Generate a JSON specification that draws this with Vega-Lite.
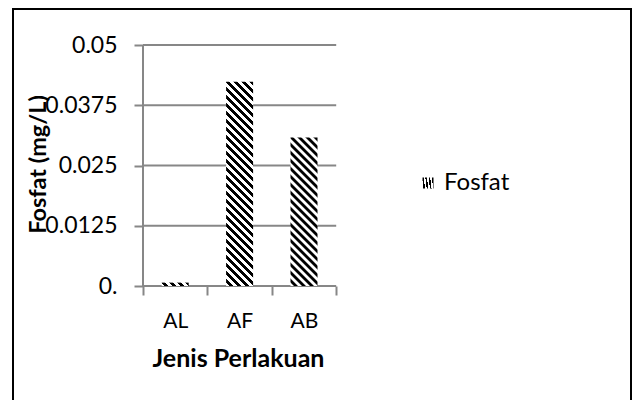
{
  "$schema": "https://vega.github.io/schema/vega-lite/v6.json",
  "autosize": {"type": "none"},
  "width": 618,
  "height": 392,
  "padding": {"left": 13, "top": 9, "right": 3, "bottom": -1},
  "background": "white",
  "config": {"view": {"stroke": "#000", "strokeWidth": 2}, "font": "Lato"},
  "datasets": {
    "main": [
      {"cat": "AL", "value": 0.0007, "series": "Fosfat"},
      {"cat": "AF", "value": 0.0424, "series": "Fosfat"},
      {"cat": "AB", "value": 0.0308, "series": "Fosfat"}
    ],
    "grid": [{"v": 0}, {"v": 0.0125}, {"v": 0.025}, {"v": 0.0375}, {"v": 0.05}]
  },
  "layer": [
    {
      "data": {"name": "grid"},
      "mark": {"type": "rule", "color": "#878787", "strokeWidth": 2},
      "encoding": {
        "y": {"field": "v", "type": "quantitative", "title": "Fosfat (mg/L)", "scale": {"domain": [0, 0.05], "range": [277, 36], "nice": false, "zero": false}},
        "x": {"datum": "AL", "type": "nominal", "bandPosition": 0, "title": "Jenis Perlakuan", "scale": {"domain": ["AL", "AF", "AB"], "range": [130, 323.2], "paddingInner": 0, "paddingOuter": 0}},
        "x2": {"datum": "AB", "bandPosition": 1}
      }
    },
    {
      "data": {"name": "main"},
      "mark": {"type": "bar", "width": 27, "strokeWidth": 0},
      "encoding": {
        "x": {
          "field": "cat", "type": "nominal", "title": "Jenis Perlakuan",
          "scale": {"domain": ["AL", "AF", "AB"], "range": [130, 323.2], "paddingInner": 0, "paddingOuter": 0},
          "axis": {
            "offset": -115, "domain": false, "grid": false, "tickBand": "extent",
            "ticks": true, "tickSize": 9, "tickWidth": 2, "tickColor": "#878787",
            "labelAngle": 0, "labelAlign": "center", "labelFont": "Lato", "labelFontSize": 21, "labelPadding": 26, "labelColor": "#000",
            "titleFont": "Lato", "titleFontSize": 25, "titleFontWeight": "bold",
            "titleColor": "#000", "titleBaseline": "alphabetic", "titleAlign": "center", "titleX": 225, "titleY": 80
          }
        },
        "y": {
          "field": "value", "type": "quantitative", "title": "Fosfat (mg/L)",
          "scale": {"domain": [0, 0.05], "range": [277, 36], "nice": false, "zero": false},
          "axis": {
            "values": [0, 0.0125, 0.025, 0.0375, 0.05],
            "labelExpr": "datum.value === 0 ? '0.' : format(datum.value, '.4~g')",
            "offset": -130, "domain": false, "grid": false,
            "ticks": true, "tickSize": 9, "tickWidth": 2, "tickColor": "#878787",
            "labelFont": "Lato", "labelFontSize": 23, "labelPadding": 17, "labelColor": "#000",
            "titleFont": "Lato", "titleFontSize": 23.5, "titleFontWeight": "bold",
            "titleColor": "#000", "titleAngle": -90, "titleBaseline": "alphabetic", "titleAlign": "center",
            "titleX": -98, "titleY": 155
          }
        },
        "stroke": {
          "field": "series", "type": "nominal",
          "scale": {"range": ["transparent"]},
          "legend": {
            "orient": "none", "legendX": 403, "legendY": 162, "title": null, "padding": 0,
            "symbolType": "square", "symbolSize": 121, "symbolStrokeWidth": 0,
            "labelFont": "Lato", "labelFontSize": 24, "labelColor": "#000", "labelOffset": 4,
            "encode": {
              "symbols": {
                "update": {
                  "opacity": {"value": 1},
                  "stroke": {"value": "transparent"},
                  "fill": {"value": {"gradient": "linear", "x1": 1, "y1": 0, "x2": 0, "y2": 1, "stops": [
                    {"offset": 0, "color": "#000"},
                    {"offset": 0.2, "color": "#000"}, {"offset": 0.2, "color": "#fff"},
                    {"offset": 0.4, "color": "#fff"}, {"offset": 0.4, "color": "#000"},
                    {"offset": 0.6, "color": "#000"}, {"offset": 0.6, "color": "#fff"},
                    {"offset": 0.8, "color": "#fff"}, {"offset": 0.8, "color": "#000"},
                    {"offset": 1, "color": "#000"}
                  ]}}
                }
              }
            }
          }
        },
        "fill": {
          "condition": [
            {"test": "datum.cat === 'AF'", "value": {"gradient": "linear", "x1": 1, "y1": 0, "x2": 0.837349, "y2": 1.231141, "stops": [
              {"offset": 0, "color": "#000"},
              {"offset": 0.015625, "color": "#000"}, {"offset": 0.015625, "color": "#fff"},
              {"offset": 0.03125, "color": "#fff"}, {"offset": 0.03125, "color": "#000"},
              {"offset": 0.046875, "color": "#000"}, {"offset": 0.046875, "color": "#fff"},
              {"offset": 0.0625, "color": "#fff"}, {"offset": 0.0625, "color": "#000"},
              {"offset": 0.078125, "color": "#000"}, {"offset": 0.078125, "color": "#fff"},
              {"offset": 0.09375, "color": "#fff"}, {"offset": 0.09375, "color": "#000"},
              {"offset": 0.109375, "color": "#000"}, {"offset": 0.109375, "color": "#fff"},
              {"offset": 0.125, "color": "#fff"}, {"offset": 0.125, "color": "#000"},
              {"offset": 0.140625, "color": "#000"}, {"offset": 0.140625, "color": "#fff"},
              {"offset": 0.15625, "color": "#fff"}, {"offset": 0.15625, "color": "#000"},
              {"offset": 0.171875, "color": "#000"}, {"offset": 0.171875, "color": "#fff"},
              {"offset": 0.1875, "color": "#fff"}, {"offset": 0.1875, "color": "#000"},
              {"offset": 0.203125, "color": "#000"}, {"offset": 0.203125, "color": "#fff"},
              {"offset": 0.21875, "color": "#fff"}, {"offset": 0.21875, "color": "#000"},
              {"offset": 0.234375, "color": "#000"}, {"offset": 0.234375, "color": "#fff"},
              {"offset": 0.25, "color": "#fff"}, {"offset": 0.25, "color": "#000"},
              {"offset": 0.265625, "color": "#000"}, {"offset": 0.265625, "color": "#fff"},
              {"offset": 0.28125, "color": "#fff"}, {"offset": 0.28125, "color": "#000"},
              {"offset": 0.296875, "color": "#000"}, {"offset": 0.296875, "color": "#fff"},
              {"offset": 0.3125, "color": "#fff"}, {"offset": 0.3125, "color": "#000"},
              {"offset": 0.328125, "color": "#000"}, {"offset": 0.328125, "color": "#fff"},
              {"offset": 0.34375, "color": "#fff"}, {"offset": 0.34375, "color": "#000"},
              {"offset": 0.359375, "color": "#000"}, {"offset": 0.359375, "color": "#fff"},
              {"offset": 0.375, "color": "#fff"}, {"offset": 0.375, "color": "#000"},
              {"offset": 0.390625, "color": "#000"}, {"offset": 0.390625, "color": "#fff"},
              {"offset": 0.40625, "color": "#fff"}, {"offset": 0.40625, "color": "#000"},
              {"offset": 0.421875, "color": "#000"}, {"offset": 0.421875, "color": "#fff"},
              {"offset": 0.4375, "color": "#fff"}, {"offset": 0.4375, "color": "#000"},
              {"offset": 0.453125, "color": "#000"}, {"offset": 0.453125, "color": "#fff"},
              {"offset": 0.46875, "color": "#fff"}, {"offset": 0.46875, "color": "#000"},
              {"offset": 0.484375, "color": "#000"}, {"offset": 0.484375, "color": "#fff"},
              {"offset": 0.5, "color": "#fff"}, {"offset": 0.5, "color": "#000"},
              {"offset": 0.515625, "color": "#000"}, {"offset": 0.515625, "color": "#fff"},
              {"offset": 0.53125, "color": "#fff"}, {"offset": 0.53125, "color": "#000"},
              {"offset": 0.546875, "color": "#000"}, {"offset": 0.546875, "color": "#fff"},
              {"offset": 0.5625, "color": "#fff"}, {"offset": 0.5625, "color": "#000"},
              {"offset": 0.578125, "color": "#000"}, {"offset": 0.578125, "color": "#fff"},
              {"offset": 0.59375, "color": "#fff"}, {"offset": 0.59375, "color": "#000"},
              {"offset": 0.609375, "color": "#000"}, {"offset": 0.609375, "color": "#fff"},
              {"offset": 0.625, "color": "#fff"}, {"offset": 0.625, "color": "#000"},
              {"offset": 0.640625, "color": "#000"}, {"offset": 0.640625, "color": "#fff"},
              {"offset": 0.65625, "color": "#fff"}, {"offset": 0.65625, "color": "#000"},
              {"offset": 0.671875, "color": "#000"}, {"offset": 0.671875, "color": "#fff"},
              {"offset": 0.6875, "color": "#fff"}, {"offset": 0.6875, "color": "#000"},
              {"offset": 0.703125, "color": "#000"}, {"offset": 0.703125, "color": "#fff"},
              {"offset": 0.71875, "color": "#fff"}, {"offset": 0.71875, "color": "#000"},
              {"offset": 0.734375, "color": "#000"}, {"offset": 0.734375, "color": "#fff"},
              {"offset": 0.75, "color": "#fff"}, {"offset": 0.75, "color": "#000"},
              {"offset": 0.765625, "color": "#000"}, {"offset": 0.765625, "color": "#fff"},
              {"offset": 0.78125, "color": "#fff"}, {"offset": 0.78125, "color": "#000"},
              {"offset": 0.796875, "color": "#000"}, {"offset": 0.796875, "color": "#fff"},
              {"offset": 0.8125, "color": "#fff"}, {"offset": 0.8125, "color": "#000"},
              {"offset": 0.828125, "color": "#000"}, {"offset": 0.828125, "color": "#fff"},
              {"offset": 0.84375, "color": "#fff"}, {"offset": 0.84375, "color": "#000"},
              {"offset": 0.859375, "color": "#000"}, {"offset": 0.859375, "color": "#fff"},
              {"offset": 0.875, "color": "#fff"}, {"offset": 0.875, "color": "#000"},
              {"offset": 0.890625, "color": "#000"}, {"offset": 0.890625, "color": "#fff"},
              {"offset": 0.90625, "color": "#fff"}, {"offset": 0.90625, "color": "#000"},
              {"offset": 0.921875, "color": "#000"}, {"offset": 0.921875, "color": "#fff"},
              {"offset": 0.9375, "color": "#fff"}, {"offset": 0.9375, "color": "#000"},
              {"offset": 0.953125, "color": "#000"}, {"offset": 0.953125, "color": "#fff"},
              {"offset": 0.96875, "color": "#fff"}, {"offset": 0.96875, "color": "#000"},
              {"offset": 0.984375, "color": "#000"}, {"offset": 0.984375, "color": "#fff"},
              {"offset": 1, "color": "#fff"}
            ]}},
            {"test": "datum.cat === 'AB'", "value": {"gradient": "linear", "x1": 1, "y1": 0, "x2": 0.76284, "y2": 1.304031, "stops": [
              {"offset": 0.004, "color": "#000"}, {"offset": 0.016, "color": "#000"}, {"offset": 0.024, "color": "#fff"}, {"offset": 0.036, "color": "#fff"},
              {"offset": 0.044, "color": "#000"}, {"offset": 0.056, "color": "#000"}, {"offset": 0.064, "color": "#fff"}, {"offset": 0.076, "color": "#fff"},
              {"offset": 0.084, "color": "#000"}, {"offset": 0.096, "color": "#000"}, {"offset": 0.104, "color": "#fff"}, {"offset": 0.116, "color": "#fff"},
              {"offset": 0.124, "color": "#000"}, {"offset": 0.136, "color": "#000"}, {"offset": 0.144, "color": "#fff"}, {"offset": 0.156, "color": "#fff"},
              {"offset": 0.164, "color": "#000"}, {"offset": 0.176, "color": "#000"}, {"offset": 0.184, "color": "#fff"}, {"offset": 0.196, "color": "#fff"},
              {"offset": 0.204, "color": "#000"}, {"offset": 0.216, "color": "#000"}, {"offset": 0.224, "color": "#fff"}, {"offset": 0.236, "color": "#fff"},
              {"offset": 0.244, "color": "#000"}, {"offset": 0.256, "color": "#000"}, {"offset": 0.264, "color": "#fff"}, {"offset": 0.276, "color": "#fff"},
              {"offset": 0.284, "color": "#000"}, {"offset": 0.296, "color": "#000"}, {"offset": 0.304, "color": "#fff"}, {"offset": 0.316, "color": "#fff"},
              {"offset": 0.324, "color": "#000"}, {"offset": 0.336, "color": "#000"}, {"offset": 0.344, "color": "#fff"}, {"offset": 0.356, "color": "#fff"},
              {"offset": 0.364, "color": "#000"}, {"offset": 0.376, "color": "#000"}, {"offset": 0.384, "color": "#fff"}, {"offset": 0.396, "color": "#fff"},
              {"offset": 0.404, "color": "#000"}, {"offset": 0.416, "color": "#000"}, {"offset": 0.424, "color": "#fff"}, {"offset": 0.436, "color": "#fff"},
              {"offset": 0.444, "color": "#000"}, {"offset": 0.456, "color": "#000"}, {"offset": 0.464, "color": "#fff"}, {"offset": 0.476, "color": "#fff"},
              {"offset": 0.484, "color": "#000"}, {"offset": 0.496, "color": "#000"}, {"offset": 0.504, "color": "#fff"}, {"offset": 0.516, "color": "#fff"},
              {"offset": 0.524, "color": "#000"}, {"offset": 0.536, "color": "#000"}, {"offset": 0.544, "color": "#fff"}, {"offset": 0.556, "color": "#fff"},
              {"offset": 0.564, "color": "#000"}, {"offset": 0.576, "color": "#000"}, {"offset": 0.584, "color": "#fff"}, {"offset": 0.596, "color": "#fff"},
              {"offset": 0.604, "color": "#000"}, {"offset": 0.616, "color": "#000"}, {"offset": 0.624, "color": "#fff"}, {"offset": 0.636, "color": "#fff"},
              {"offset": 0.644, "color": "#000"}, {"offset": 0.656, "color": "#000"}, {"offset": 0.664, "color": "#fff"}, {"offset": 0.676, "color": "#fff"},
              {"offset": 0.684, "color": "#000"}, {"offset": 0.696, "color": "#000"}, {"offset": 0.704, "color": "#fff"}, {"offset": 0.716, "color": "#fff"},
              {"offset": 0.724, "color": "#000"}, {"offset": 0.736, "color": "#000"}, {"offset": 0.744, "color": "#fff"}, {"offset": 0.756, "color": "#fff"},
              {"offset": 0.764, "color": "#000"}, {"offset": 0.776, "color": "#000"}, {"offset": 0.784, "color": "#fff"}, {"offset": 0.796, "color": "#fff"},
              {"offset": 0.804, "color": "#000"}, {"offset": 0.816, "color": "#000"}, {"offset": 0.824, "color": "#fff"}, {"offset": 0.836, "color": "#fff"},
              {"offset": 0.844, "color": "#000"}, {"offset": 0.856, "color": "#000"}, {"offset": 0.864, "color": "#fff"}, {"offset": 0.876, "color": "#fff"},
              {"offset": 0.884, "color": "#000"}, {"offset": 0.896, "color": "#000"}, {"offset": 0.904, "color": "#fff"}, {"offset": 0.916, "color": "#fff"}
            ]}}
          ],
          "value": {"gradient": "linear", "x1": 1, "y1": 0, "x2": -0.167, "y2": 0.145659, "stops": [
            {"offset": 0, "color": "#000"},
            {"offset": 0.125, "color": "#000"}, {"offset": 0.125, "color": "#fff"},
            {"offset": 0.25, "color": "#fff"}, {"offset": 0.25, "color": "#000"},
            {"offset": 0.375, "color": "#000"}, {"offset": 0.375, "color": "#fff"},
            {"offset": 0.5, "color": "#fff"}, {"offset": 0.5, "color": "#000"},
            {"offset": 0.625, "color": "#000"}, {"offset": 0.625, "color": "#fff"},
            {"offset": 0.75, "color": "#fff"}, {"offset": 0.75, "color": "#000"},
            {"offset": 0.875, "color": "#000"}, {"offset": 0.875, "color": "#fff"},
            {"offset": 1, "color": "#fff"}
          ]}
        }
      }
    },
    {
      "data": {"name": "main"},
      "mark": {"type": "rule", "color": "#878787", "strokeWidth": 2},
      "encoding": {
        "x": {"datum": "AL", "type": "nominal", "bandPosition": 0, "title": "Jenis Perlakuan", "scale": {"domain": ["AL", "AF", "AB"], "range": [130, 323.2], "paddingInner": 0, "paddingOuter": 0}},
        "y": {"datum": 0, "type": "quantitative", "title": "Fosfat (mg/L)", "scale": {"domain": [0, 0.05], "range": [277, 36], "nice": false, "zero": false}},
        "y2": {"datum": 0.05}
      }
    }
  ]
}
